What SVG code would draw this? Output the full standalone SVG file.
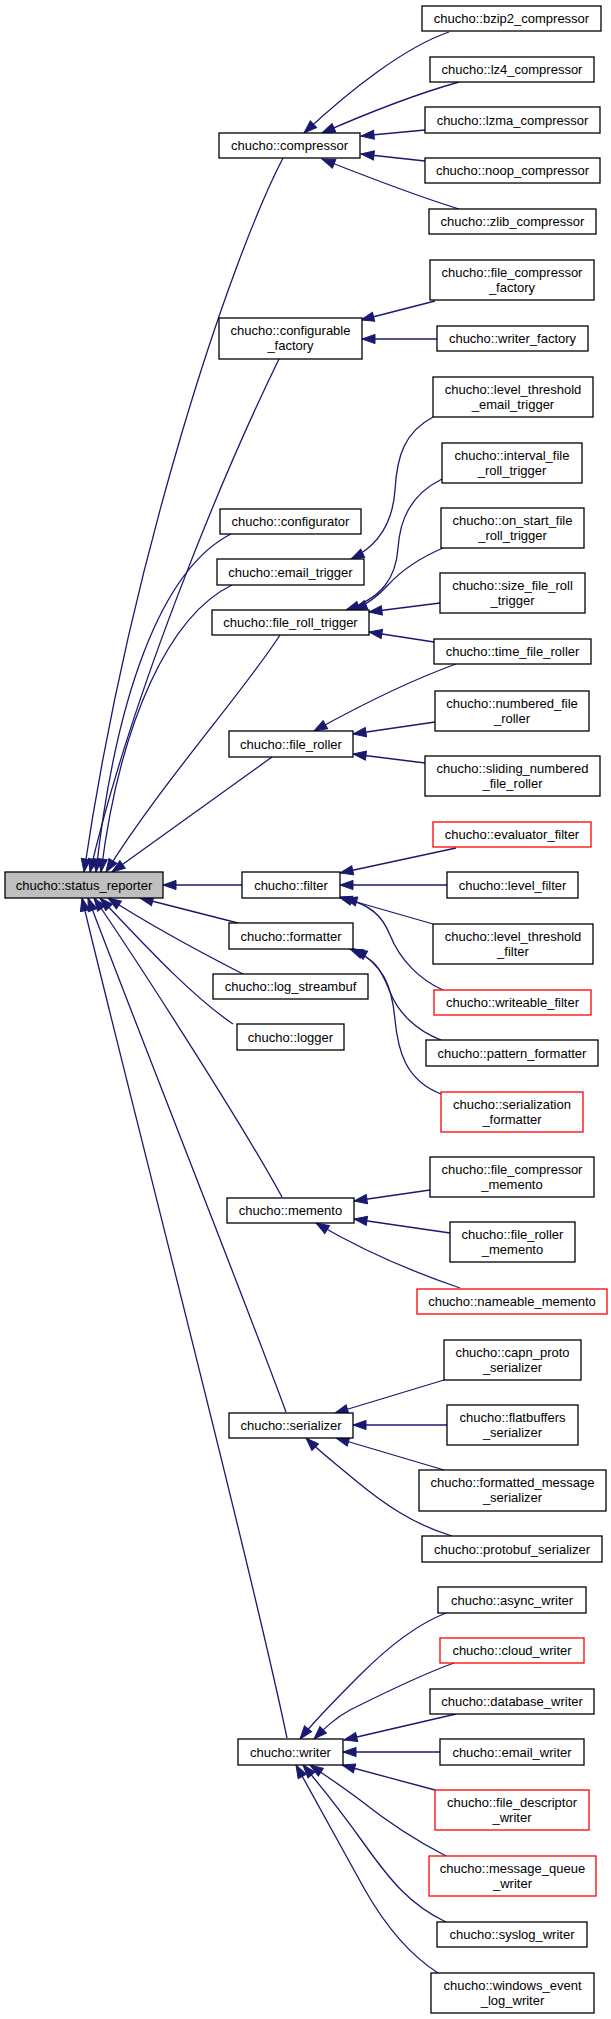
<svg xmlns="http://www.w3.org/2000/svg" width="611" height="2019" viewBox="0 0 611 2019">
<style>
.node rect{fill:#fff;stroke:#000;stroke-width:1.3}
.node.red rect{stroke:#f00}
.node.root rect{fill:#bfbfbf}
text{font-family:"Liberation Sans",Arial,Helvetica,sans-serif;font-size:13px;text-anchor:middle;fill:#000}
#edges path{fill:none;stroke:#191970;stroke-width:1.3;marker-end:url(#ah)}
</style>
<defs>
<marker id="ah" markerUnits="userSpaceOnUse" markerWidth="14" markerHeight="10" refX="13" refY="5" orient="auto" overflow="visible">
<path d="M0,0.4 L13,5 L0,9.6 z" fill="#191970" stroke="#191970" stroke-width="1"/>
</marker>
</defs>
<rect width="611" height="2019" fill="#fff"/>
<g id="edges">
<path d="M449,32 C405,47 350,90 304,133"/>
<path d="M459,82 C420,93 370,112 322,133"/>
<path d="M425,130 L361,136"/>
<path d="M425,161 L361,154"/>
<path d="M459,209 C420,197 370,178 322,159"/>
<path d="M435,301 L361,320"/>
<path d="M437,339 L362,339"/>
<path d="M433,417 C405,432 397,455 395,490 C393,520 380,545 351,559"/>
<path d="M442,479 C410,495 400,520 398,548 C396,578 382,598 346,610"/>
<path d="M443,548 C415,560 400,572 388,585 C378,596 368,604 354,610"/>
<path d="M440,603 L369,612"/>
<path d="M434,642 L369,632"/>
<path d="M456,664 C420,677 370,700 314,731"/>
<path d="M435,722 L353,734"/>
<path d="M425,763 L353,754"/>
<path d="M456,848 L340,873"/>
<path d="M447,885 L340,885"/>
<path d="M433,924 L339,897"/>
<path d="M443,990 C420,980 400,960 390,935 C382,915 370,905 344,898"/>
<path d="M441,1040 C415,1030 398,1012 390,992 C380,965 372,958 350,949"/>
<path d="M441,1094 C405,1080 398,1050 395,1020 C392,985 383,965 354,949"/>
<path d="M430,1190 L354,1201"/>
<path d="M450,1233 L354,1219"/>
<path d="M460,1288 C425,1276 370,1255 316,1223"/>
<path d="M444,1380 L335,1413"/>
<path d="M447,1425 L353,1425"/>
<path d="M444,1470 L336,1438"/>
<path d="M452,1536 C415,1525 385,1505 355,1480 C335,1463 320,1452 306,1438"/>
<path d="M446,1613 C415,1625 385,1650 360,1675 C335,1700 315,1720 300,1739"/>
<path d="M454,1663 C420,1675 380,1695 350,1710 C335,1718 325,1728 314,1739"/>
<path d="M456,1714 L344,1740"/>
<path d="M440,1752 L343,1752"/>
<path d="M435,1790 L342,1765"/>
<path d="M446,1856 C415,1840 385,1820 360,1800 C340,1785 325,1775 310,1765"/>
<path d="M446,1922 C410,1905 390,1880 365,1845 C340,1810 320,1785 303,1765"/>
<path d="M438,1973 C410,1955 385,1925 365,1890 C340,1845 315,1800 296,1765"/>
<path d="M283,158 C230,260 130,560 84,872"/>
<path d="M279,359 C220,480 130,700 90,872"/>
<path d="M231,534 C160,570 115,700 96,872"/>
<path d="M232,585 C170,615 120,720 101,872"/>
<path d="M280,635 C245,690 160,785 106,872"/>
<path d="M272,757 L112,872"/>
<path d="M242,885 L163,885"/>
<path d="M238,923 L140,898"/>
<path d="M243,974 C200,952 150,925 108,898"/>
<path d="M233,1024 C190,995 140,940 100,898"/>
<path d="M282,1197 C240,1120 130,950 94,898"/>
<path d="M286,1412 C245,1300 130,1010 88,898"/>
<path d="M287,1738 C250,1560 110,1020 82,898"/>
</g>
<g id="status_reporter" class="node root"><rect x="5" y="872" width="158" height="26"/><text x="84" y="889.5">chucho::status_reporter</text></g>
<g id="compressor" class="node"><rect x="219" y="133" width="141" height="25"/><text x="289.5" y="150">chucho::compressor</text></g>
<g id="configurable_factory" class="node"><rect x="219" y="318" width="143" height="41"/><text x="290.5" y="335">chucho::configurable</text><text x="290.5" y="350">_factory</text></g>
<g id="configurator" class="node"><rect x="220" y="509" width="141" height="25"/><text x="290.5" y="526">chucho::configurator</text></g>
<g id="email_trigger" class="node"><rect x="217" y="559" width="147" height="26"/><text x="290.5" y="576.5">chucho::email_trigger</text></g>
<g id="file_roll_trigger" class="node"><rect x="212" y="610" width="157" height="25"/><text x="290.5" y="627">chucho::file_roll_trigger</text></g>
<g id="file_roller" class="node"><rect x="229" y="731" width="124" height="26"/><text x="291" y="748.5">chucho::file_roller</text></g>
<g id="filter" class="node"><rect x="242" y="872" width="98" height="26"/><text x="291" y="889.5">chucho::filter</text></g>
<g id="formatter" class="node"><rect x="229" y="923" width="124" height="26"/><text x="291" y="940.5">chucho::formatter</text></g>
<g id="log_streambuf" class="node"><rect x="213" y="974" width="155" height="25"/><text x="290.5" y="991">chucho::log_streambuf</text></g>
<g id="logger" class="node"><rect x="237" y="1024" width="107" height="26"/><text x="290.5" y="1041.5">chucho::logger</text></g>
<g id="memento" class="node"><rect x="227" y="1198" width="127" height="25"/><text x="290.5" y="1215">chucho::memento</text></g>
<g id="serializer" class="node"><rect x="229" y="1413" width="124" height="25"/><text x="291" y="1430">chucho::serializer</text></g>
<g id="writer" class="node"><rect x="238" y="1739" width="105" height="26"/><text x="290.5" y="1756.5">chucho::writer</text></g>
<g id="bzip2_compressor" class="node"><rect x="422" y="6" width="179" height="25"/><text x="511.5" y="23">chucho::bzip2_compressor</text></g>
<g id="lz4_compressor" class="node"><rect x="430" y="57" width="164" height="25"/><text x="512" y="74">chucho::lz4_compressor</text></g>
<g id="lzma_compressor" class="node"><rect x="425" y="107" width="175" height="26"/><text x="512.5" y="124.5">chucho::lzma_compressor</text></g>
<g id="noop_compressor" class="node"><rect x="425" y="158" width="175" height="25"/><text x="512.5" y="175">chucho::noop_compressor</text></g>
<g id="zlib_compressor" class="node"><rect x="429" y="209" width="167" height="25"/><text x="512.5" y="226">chucho::zlib_compressor</text></g>
<g id="file_compressor_factory" class="node"><rect x="430" y="260" width="164" height="40"/><text x="512" y="276.5">chucho::file_compressor</text><text x="512" y="291.5">_factory</text></g>
<g id="writer_factory" class="node"><rect x="437" y="326" width="151" height="25"/><text x="512.5" y="343">chucho::writer_factory</text></g>
<g id="level_threshold_email_trigger" class="node"><rect x="433" y="377" width="160" height="40"/><text x="513" y="393.5">chucho::level_threshold</text><text x="513" y="408.5">_email_trigger</text></g>
<g id="interval_file_roll_trigger" class="node"><rect x="442" y="443" width="140" height="40"/><text x="512" y="459.5">chucho::interval_file</text><text x="512" y="474.5">_roll_trigger</text></g>
<g id="on_start_file_roll_trigger" class="node"><rect x="441" y="508" width="143" height="40"/><text x="512.5" y="524.5">chucho::on_start_file</text><text x="512.5" y="539.5">_roll_trigger</text></g>
<g id="size_file_roll_trigger" class="node"><rect x="440" y="573" width="145" height="40"/><text x="512.5" y="589.5">chucho::size_file_roll</text><text x="512.5" y="604.5">_trigger</text></g>
<g id="time_file_roller" class="node"><rect x="434" y="639" width="157" height="25"/><text x="512.5" y="656">chucho::time_file_roller</text></g>
<g id="numbered_file_roller" class="node"><rect x="435" y="691" width="154" height="40"/><text x="512" y="707.5">chucho::numbered_file</text><text x="512" y="722.5">_roller</text></g>
<g id="sliding_numbered_file_roller" class="node"><rect x="425" y="756" width="175" height="40"/><text x="512.5" y="772.5">chucho::sliding_numbered</text><text x="512.5" y="787.5">_file_roller</text></g>
<g id="evaluator_filter" class="node red"><rect x="433" y="822" width="158" height="25"/><text x="512" y="839">chucho::evaluator_filter</text></g>
<g id="level_filter" class="node"><rect x="447" y="872" width="131" height="26"/><text x="512.5" y="889.5">chucho::level_filter</text></g>
<g id="level_threshold_filter" class="node"><rect x="433" y="924" width="160" height="40"/><text x="513" y="940.5">chucho::level_threshold</text><text x="513" y="955.5">_filter</text></g>
<g id="writeable_filter" class="node red"><rect x="434" y="990" width="157" height="25"/><text x="512.5" y="1007">chucho::writeable_filter</text></g>
<g id="pattern_formatter" class="node"><rect x="426" y="1040" width="172" height="26"/><text x="512" y="1057.5">chucho::pattern_formatter</text></g>
<g id="serialization_formatter" class="node red"><rect x="441" y="1092" width="142" height="40"/><text x="512" y="1108.5">chucho::serialization</text><text x="512" y="1123.5">_formatter</text></g>
<g id="file_compressor_memento" class="node"><rect x="430" y="1157" width="164" height="40"/><text x="512" y="1173.5">chucho::file_compressor</text><text x="512" y="1188.5">_memento</text></g>
<g id="file_roller_memento" class="node"><rect x="450" y="1222" width="125" height="40"/><text x="512.5" y="1238.5">chucho::file_roller</text><text x="512.5" y="1253.5">_memento</text></g>
<g id="nameable_memento" class="node red"><rect x="417" y="1289" width="190" height="25"/><text x="512" y="1306">chucho::nameable_memento</text></g>
<g id="capn_proto_serializer" class="node"><rect x="444" y="1340" width="137" height="40"/><text x="512.5" y="1356.5">chucho::capn_proto</text><text x="512.5" y="1371.5">_serializer</text></g>
<g id="flatbuffers_serializer" class="node"><rect x="447" y="1405" width="131" height="40"/><text x="512.5" y="1421.5">chucho::flatbuffers</text><text x="512.5" y="1436.5">_serializer</text></g>
<g id="formatted_message_serializer" class="node"><rect x="419" y="1470" width="187" height="41"/><text x="512.5" y="1487">chucho::formatted_message</text><text x="512.5" y="1502">_serializer</text></g>
<g id="protobuf_serializer" class="node"><rect x="422" y="1536" width="180" height="26"/><text x="512" y="1553.5">chucho::protobuf_serializer</text></g>
<g id="async_writer" class="node"><rect x="438" y="1587" width="148" height="26"/><text x="512" y="1604.5">chucho::async_writer</text></g>
<g id="cloud_writer" class="node red"><rect x="440" y="1638" width="144" height="25"/><text x="512" y="1655">chucho::cloud_writer</text></g>
<g id="database_writer" class="node"><rect x="430" y="1689" width="164" height="25"/><text x="512" y="1706">chucho::database_writer</text></g>
<g id="email_writer" class="node"><rect x="440" y="1739" width="144" height="26"/><text x="512" y="1756.5">chucho::email_writer</text></g>
<g id="file_descriptor_writer" class="node red"><rect x="435" y="1790" width="154" height="40"/><text x="512" y="1806.5">chucho::file_descriptor</text><text x="512" y="1821.5">_writer</text></g>
<g id="message_queue_writer" class="node red"><rect x="429" y="1856" width="167" height="40"/><text x="512.5" y="1872.5">chucho::message_queue</text><text x="512.5" y="1887.5">_writer</text></g>
<g id="syslog_writer" class="node"><rect x="437" y="1922" width="150" height="25"/><text x="512" y="1939">chucho::syslog_writer</text></g>
<g id="windows_event_log_writer" class="node"><rect x="431" y="1973" width="163" height="40"/><text x="512.5" y="1989.5">chucho::windows_event</text><text x="512.5" y="2004.5">_log_writer</text></g>
</svg>
